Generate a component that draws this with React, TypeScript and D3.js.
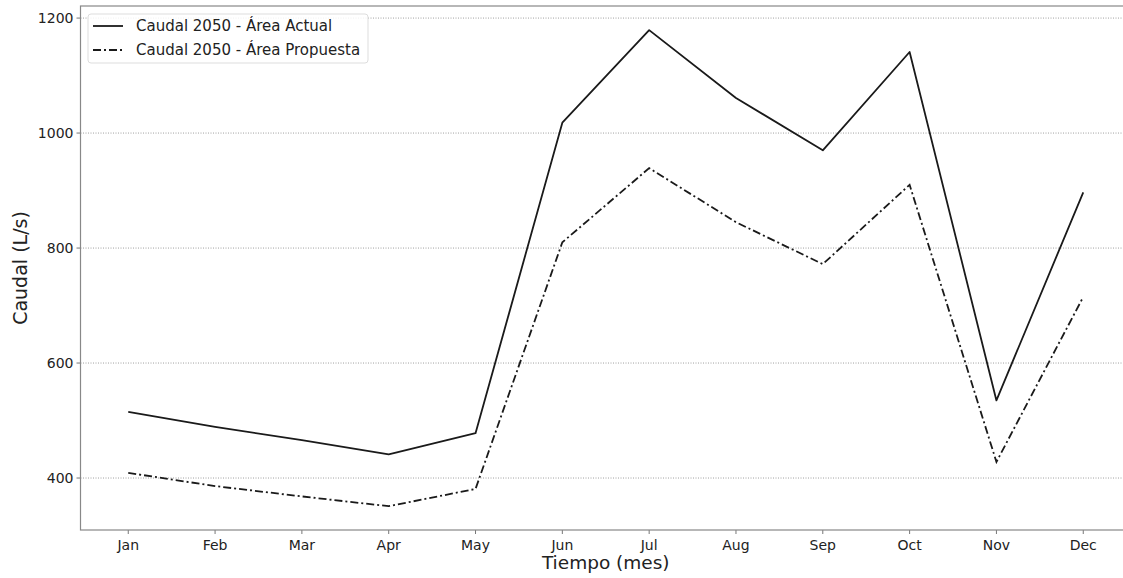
import React from "react";
import * as d3 from "d3";

const months = ["Jan", "Feb", "Mar", "Apr", "May", "Jun", "Jul", "Aug", "Sep", "Oct", "Nov", "Dec"];
const actual = [515, 489, 466, 441, 478, 1018, 1179, 1061, 970, 1141, 535, 897];
const proposed = [409, 386, 368, 351, 381, 810, 939, 845, 772, 910, 428, 715];
const yTicks = [400, 600, 800, 1000, 1200];
const legendLabels = ["Caudal 2050 - Área Actual", "Caudal 2050 - Área Propuesta"];

const W = 1123;
const H = 578;
const left = 80.5;
const right = 1131;
const top = 6;
const bottom = 530;
const font = "DejaVu Sans, sans-serif";

export default function App() {
  const x = d3.scaleLinear().domain([-0.55, 11.55]).range([left, right]);
  const y = d3.scaleLinear().domain([309.6, 1221]).range([bottom, top]);
  const line = d3
    .line<number>()
    .x((_, i) => x(i))
    .y((d) => y(d));
  const dashDot = "8,3,2,3";
  return (
    <svg width={W} height={H} style={{ position: "absolute", left: 0, top: 0, background: "#fff" }}>
      <defs>
        <clipPath id="plot">
          <rect x={left} y={top} width={right - left} height={bottom - top} />
        </clipPath>
      </defs>
      {yTicks.map((t) => (
        <g key={t}>
          <line x1={left} x2={right} y1={y(t)} y2={y(t)} stroke="#888" strokeWidth={0.8} strokeDasharray="1,1.5" />
          <line x1={left - 4} x2={left} y1={y(t)} y2={y(t)} stroke="#777" strokeWidth={1} />
          <text x={left - 7} y={y(t)} dy="0.35em" textAnchor="end" fontFamily={font} fontSize={14} fill="#222">
            {t}
          </text>
        </g>
      ))}
      {months.map((m, i) => (
        <g key={m}>
          <line x1={x(i)} x2={x(i)} y1={bottom} y2={bottom + 4} stroke="#777" strokeWidth={1} />
          <text x={x(i)} y={bottom + 20} textAnchor="middle" fontFamily={font} fontSize={14} fill="#222">
            {m}
          </text>
        </g>
      ))}
      <g clipPath="url(#plot)">
        <path d={line(actual) || ""} fill="none" stroke="#1a1a1a" strokeWidth={1.8} strokeLinejoin="round" />
        <path d={line(proposed) || ""} fill="none" stroke="#1a1a1a" strokeWidth={1.8} strokeDasharray={dashDot} />
      </g>
      <rect x={left} y={top} width={right - left} height={bottom - top} fill="none" stroke="#888" strokeWidth={1.2} />
      <g>
        <rect x={88} y={14} width={280} height={49} rx={3} fill="#fff" fillOpacity={0.85} stroke="#ddd" strokeWidth={1} />
        <line x1={93} x2={123} y1={26} y2={26} stroke="#1a1a1a" strokeWidth={1.8} />
        <text x={136} y={26} dy="0.35em" fontFamily={font} fontSize={15} fill="#222">
          {legendLabels[0]}
        </text>
        <line x1={93} x2={123} y1={50} y2={50} stroke="#1a1a1a" strokeWidth={1.8} strokeDasharray={dashDot} />
        <text x={136} y={50} dy="0.35em" fontFamily={font} fontSize={15} fill="#222">
          {legendLabels[1]}
        </text>
      </g>
      <text x={(left + right) / 2} y={569} textAnchor="middle" fontFamily={font} fontSize={18.5} fill="#222">
        Tiempo (mes)
      </text>
      <text
        transform={`translate(27, ${(top + bottom) / 2}) rotate(-90)`}
        textAnchor="middle"
        fontFamily={font}
        fontSize={19}
        fill="#222"
      >
        Caudal (L/s)
      </text>
    </svg>
  );
}
